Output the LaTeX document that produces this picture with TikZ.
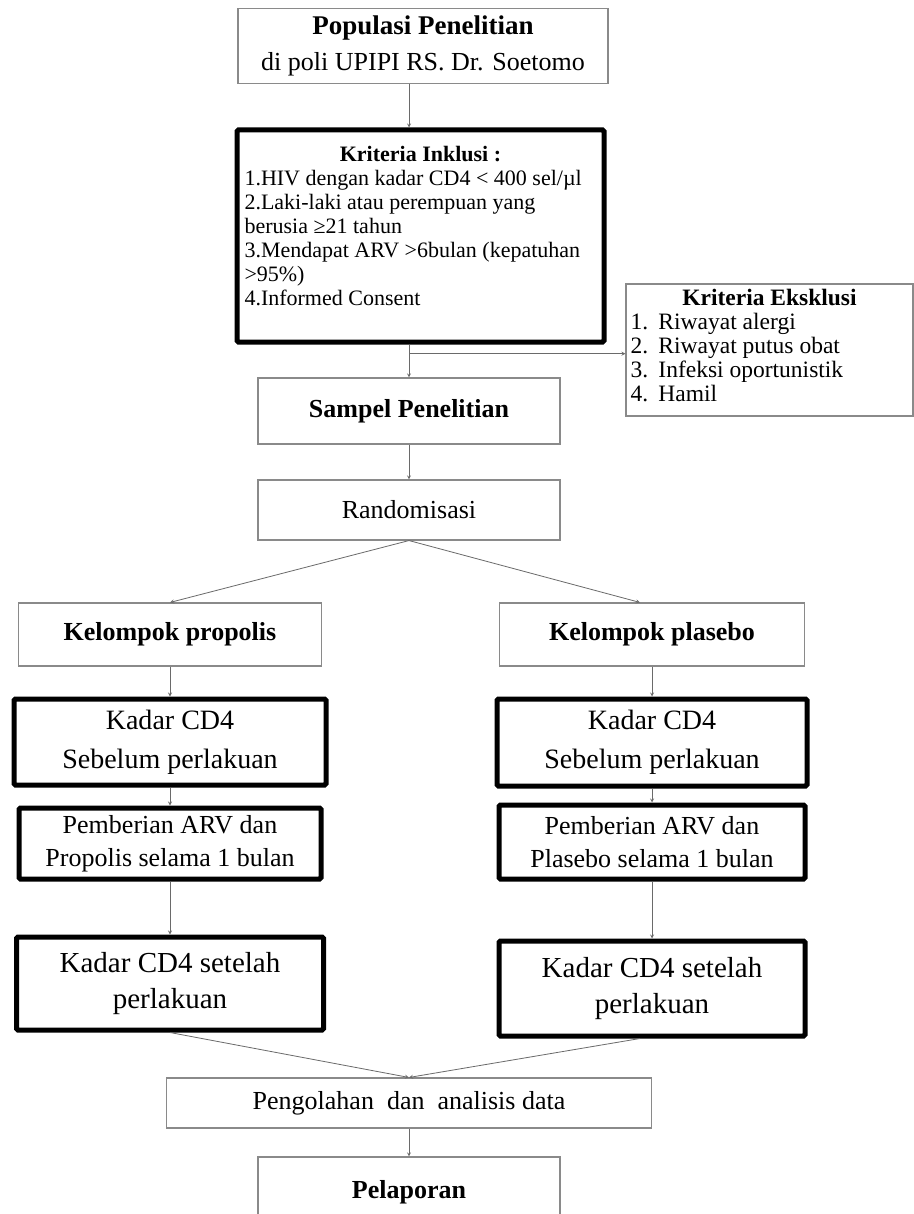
\documentclass[tikz,border=0pt]{standalone}
\usepackage{fontspec}
\setmainfont{Liberation Serif}
\usetikzlibrary{positioning, calc}
\definecolor{BoxGray}{HTML}{8A8A8A}
\definecolor{LineGray}{HTML}{6A6A6A}
\newcommand{\fsz}[2]{\fontsize{#1}{#2}\selectfont}

\begin{document}
\begin{tikzpicture}[
    x=1pt, y=-1pt,
    thinbox/.style={draw=BoxGray, line width=1.1pt, align=center, inner sep=4pt},
    thickbox/.style={draw=black, line width=5pt, rounded corners=1.5pt, align=center, inner sep=4pt},
    flow/.style={draw=LineGray, line width=0.8pt, ->, >=stealth}
]
\useasboundingbox[fill=white] (0,0) rectangle (913,1214);

% top of the chart
\node[thinbox, minimum width=370pt, minimum height=75pt, font=\fsz{26}{36}] (pop) at (423,46)
    {{\fsz{27}{36}\textbf{Populasi Penelitian}}\\di poli UPIPI RS. Dr. Soetomo};
\node[thickbox, minimum width=367pt, minimum height=212pt, font=\fsz{22}{24}] (inkl) at (420.5,236)
    {\parbox[c][180pt][t]{352pt}{\centering\textbf{Kriteria Inklusi :}\par
     \raggedright 1.HIV dengan kadar CD4 < 400 sel/µl\\
     2.Laki-laki atau perempuan yang\\
     berusia ≥21 tahun\\
     3.Mendapat ARV >6bulan (kepatuhan\\
     >95\%)\\
     4.Informed Consent}};
\node[thinbox, minimum width=287pt, minimum height=132pt, font=\fsz{23.5}{24}] (excl) at (769.5,350)
    {\parbox[c][122pt][t]{278pt}{\centering\textbf{Kriteria Eksklusi}\par
     \raggedright \makebox[28pt][l]{1.}Riwayat alergi\\
     \makebox[28pt][l]{2.}Riwayat putus obat\\
     \makebox[28pt][l]{3.}Infeksi oportunistik\\
     \makebox[28pt][l]{4.}Hamil}};
\node[thinbox, minimum width=302pt, minimum height=66pt, font=\fsz{26}{30}\bfseries] (samp) at (409,411) {Sampel Penelitian};
\node[thinbox, minimum width=302pt, minimum height=60pt, font=\fsz{26}{30}] (rand) at (409,510) {Randomisasi};

% two arms
\node[thinbox, minimum width=303pt, minimum height=63pt, font=\fsz{26}{30}\bfseries] (kprop) at (170,634.5) {Kelompok propolis};
\node[thinbox, minimum width=305pt, minimum height=63pt, font=\fsz{26}{30}\bfseries] (kplas) at (652,634.5) {Kelompok plasebo};
\node[thickbox, minimum width=312pt, minimum height=86pt, font=\fsz{28}{39}] (sebL) at (170,742) {Kadar CD4\\Sebelum perlakuan};
\node[thickbox, minimum width=310pt, minimum height=87pt, font=\fsz{28}{39}] (sebR) at (652,742.5) {Kadar CD4\\Sebelum perlakuan};
\node[thickbox, minimum width=302pt, minimum height=71pt, font=\fsz{26}{33}] (beriL) at (170,843.5) {Pemberian ARV dan\\Propolis selama 1 bulan};
\node[thickbox, minimum width=306pt, minimum height=74pt, font=\fsz{26}{33}] (beriR) at (652,842) {Pemberian ARV dan\\Plasebo selama 1 bulan};
\node[thickbox, minimum width=307pt, minimum height=93pt, font=\fsz{29}{36}] (setL) at (170,983.5) {Kadar CD4 setelah\\perlakuan};
\node[thickbox, minimum width=306pt, minimum height=95pt, font=\fsz{29}{36}] (setR) at (652,988.5) {Kadar CD4 setelah\\perlakuan};

% bottom
\node[thinbox, minimum width=485pt, minimum height=50pt, font=\fsz{26}{30}] (olah) at (409,1103) {Pengolahan\ \ dan\ \ analisis data};
\node[thinbox, minimum width=302pt, minimum height=70pt, font=\fsz{26}{30}\bfseries] (lapor) at (409,1192) {Pelaporan};

% connectors
\coordinate (split) at ($(inkl.south -| samp)!0.28!(samp.north)$);
\draw[flow] (pop.south -| samp) -- (inkl.north -| samp);
\draw[flow] (inkl.south -| samp) -- (samp.north);
\draw[flow] (split) -- (split -| excl.west);
\draw[flow] (samp) -- (rand);
\draw[flow] (rand.south) -- (kprop.north);
\draw[flow] (rand.south) -- ([xshift=-12pt]kplas.north);
\draw[flow] (kprop) -- (sebL);
\draw[flow] (kplas) -- (sebR);
\draw[flow] (sebL) -- (beriL);
\draw[flow] (sebR) -- (beriR);
\draw[flow] (beriL) -- (setL);
\draw[flow] (beriR) -- (setR);
\draw[flow] (setL.south) -- (olah.north);
\draw[flow] ([xshift=-12pt]setR.south) -- (olah.north);
\draw[flow] (olah) -- (lapor);
\end{tikzpicture}
\end{document}
